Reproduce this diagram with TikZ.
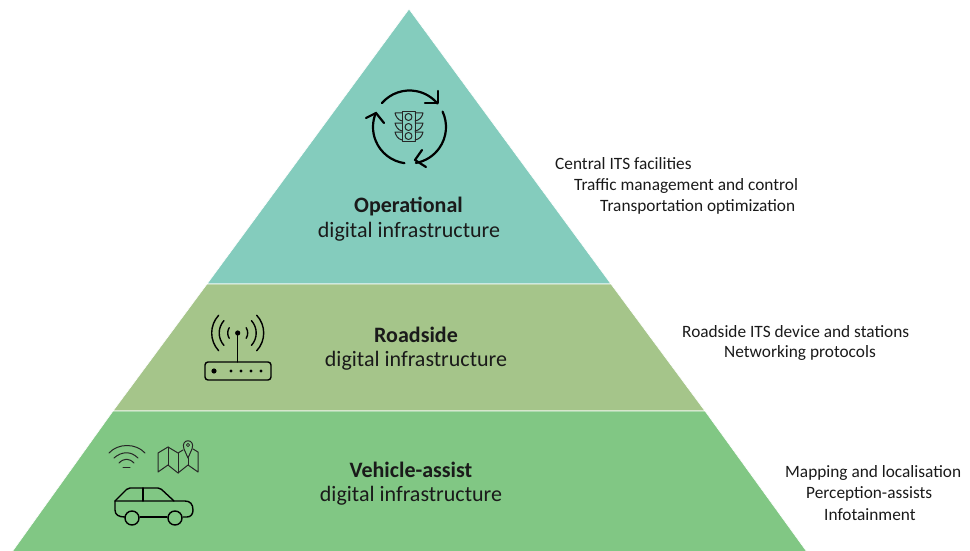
\documentclass[tikz,border=0pt]{standalone}
\usepackage{fontspec}
\setmainfont{Carlito}
\usetikzlibrary{calc,positioning,arrows}
\definecolor{tiertop}{HTML}{84CCBD}
\definecolor{tiermid}{HTML}{A5C58A}
\definecolor{tierlow}{HTML}{81C784}
\definecolor{inktext}{HTML}{1A1A1A}
\tikzset{
  tier/.style={draw=white,line width=0.6pt},
  title/.style={font=\fontsize{22}{26}\selectfont\bfseries,text=inktext,inner sep=0pt,anchor=center},
  subtitle/.style={font=\fontsize{22}{26}\selectfont,text=inktext,inner sep=0pt,anchor=center},
  aside/.style={font=\fontsize{17.3}{20}\selectfont,text=inktext,inner sep=0pt,anchor=west},
  icon/.style={draw=black,line width=1.4pt,line cap=round,line join=round},
  iconthin/.style={draw=black!85,line width=1pt,line cap=round,line join=round},
  iconcycle/.style={draw=black,line width=2.2pt,line cap=round,line join=round}
}
\begin{document}
\begin{tikzpicture}[x=1pt,y=-1pt]
  \useasboundingbox (0,0) rectangle (970,551);
  % tiers
  \fill[tiertop,tier] (409,9) -- (611,284) -- (207,284) -- cycle;
  \fill[tiermid,tier] (207,284) -- (611,284) -- (705,411) -- (113,411) -- cycle;
  \fill[tierlow,tier] (113,411) -- (705,411) -- (807,552) -- (12,552) -- cycle;
  % tier labels
  \node[title] (optitle) at (408.5,206) {Operational};
  \node[subtitle] (opsub) at (409,231.5) {digital infrastructure};
  \node[title] (rstitle) at (416,335) {Roadside};
  \node[subtitle] (rssub) at (416,360.5) {digital infrastructure};
  \node[title] (vatitle) at (411,470) {Vehicle-assist};
  \node[subtitle] (vasub) at (411,495.5) {digital infrastructure};
  % side texts
  \node[aside] (central) at (555,164) {Central ITS facilities};
  \node[aside] (traffic) at (574,185.5) {Traffic management and control};
  \node[aside] (transport) at (600,207) {Transportation optimization};
  \node[aside] (device) at (682,332) {Roadside ITS device and stations};
  \node[aside] (network) at (724,353) {Networking protocols};
  \node[aside] (mapping) at (785,473) {Mapping and localisation};
  \node[aside] (percept) at (806,493.5) {Perception-assists};
  \node[aside] (info) at (824,515) {Infotainment};
  % traffic light with cycle
  \coordinate (cyc) at (409.5,127);
  \draw[iconcycle] ([shift=(221:36.5)]cyc) arc (221:320:36.5);
  \draw[iconcycle] (438,91) -- (438,103) -- (425,103);
  \draw[iconcycle] ([shift=(-25:36.5)]cyc) arc (-25:80:36.5);
  \draw[iconcycle] (426,167) -- (415,160) -- (422,150);
  \draw[iconcycle] ([shift=(98:36.5)]cyc) arc (98:203:36.5);
  \draw[iconcycle] (366,118) -- (376,113) -- (384,123);
  \draw[iconthin] (402,112) rectangle (415,141);
  \foreach \y in {117,127,136} {
    \draw[iconthin] (408.5,\y) circle (3.5);
    \draw[iconthin] (402,\y-4) -- (395,\y-4) .. controls (396,\y) and (398,\y+3) .. (402,\y+4);
    \draw[iconthin] (415,\y-4) -- (423,\y-4) .. controls (422,\y) and (420,\y+3) .. (415,\y+4);
  }
  % router
  \coordinate (ant) at (237.7,333);
  \draw[icon] (ant) -- (237.7,362);
  \fill (ant) circle (2.6);
  \foreach \r/\a in {10/32,18.5/42,26/43} {
    \draw[icon] ([shift=({180-\a}:\r)]ant) arc ({180-\a}:{180+\a}:\r);
    \draw[icon] ([shift=(-\a:\r)]ant) arc (-\a:\a:\r);
  }
  \draw[icon,rounded corners=3pt] (205,362) rectangle (271,380);
  \fill (214,371) circle (2.6);
  \foreach \x in {231,241,251,261} { \fill (\x,371) circle (1.6); }
  % wifi
  \draw[iconthin] (109,453) .. controls (118,443) and (136,443) .. (145,453);
  \draw[iconthin] (114,458) .. controls (122,451) and (131,451) .. (138,458);
  \draw[iconthin] (119,463) .. controls (124,458) and (129,458) .. (134,463);
  \draw[iconthin] (123,467) -- (130,467);
  % map
  \draw[iconthin] (183,450) -- (178,453) -- (168,447) -- (158,453) -- (158,472) -- (168,465) -- (178,473) -- (188,465) -- (198,472) -- (198,452) -- (193,449);
  \draw[iconthin] (168,447) -- (168,465);
  \draw[iconthin] (178,453) -- (178,473);
  \draw[iconthin] (188,458) -- (188,465);
  \draw[iconthin] (188,458) -- (184,449) .. controls (180,438) and (196,438) .. (192,449) -- cycle;
  \draw[iconthin,line width=0.7pt] (188,445) circle (1.6);
  % car
  \draw[icon] (115,501) -- (115,510) .. controls (115,515) and (119,517) .. (125,517);
  \draw[icon] (140,517) -- (167,517);
  \draw[icon] (183,517) -- (187,517) .. controls (191,517) and (193,514) .. (193,510) .. controls (193,504) and (190,501) .. (185,501) -- (115,501);
  \draw[icon,rounded corners=2pt] (115,501) -- (128,488) -- (160,488) -- (174,501);
  \draw[icon] (143,488) -- (143,501);
  \draw[icon] (132,518) circle (7);
  \draw[icon] (175,518) circle (7);
\end{tikzpicture}
\end{document}
